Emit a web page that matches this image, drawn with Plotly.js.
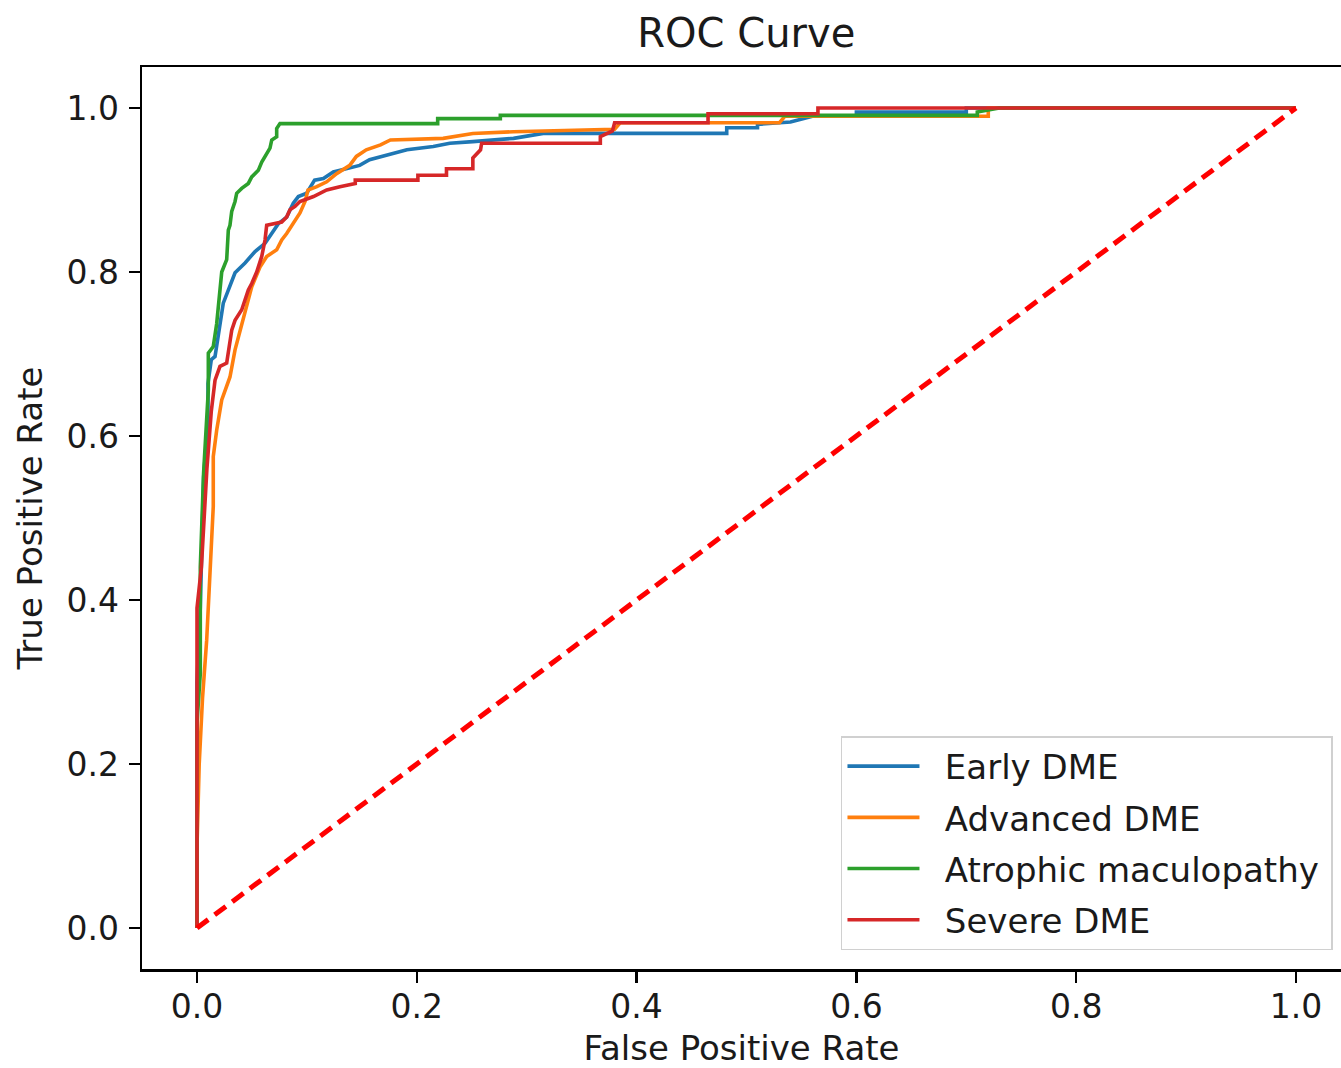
<!DOCTYPE html>
<html>
<head>
<meta charset="utf-8">
<script src="https://cdn.plot.ly/plotly-3.0.1.min.js"></script>
<style>html,body{margin:0;padding:0;background:#fff;overflow:hidden}#chart{width:1341px;height:1068px}</style>
</head>
<body>
<div id="chart"></div>
<script>
const seriesNames = ["Early DME", "Advanced DME", "Atrophic maculopathy", "Severe DME"];
const seriesColors = ["#1f77b4", "#ff7f0e", "#2ca02c", "#d62728"];

const earlyFPR = [0,0,0.003,0.006,0.01,0.010,0.013,0.0164,0.0239,0.0285,0.0346,0.0437,0.0528,0.0619,0.068,0.074,0.0816,0.0876,0.0922,0.0998,0.107,0.115,0.124,0.136,0.148,0.157,0.173,0.191,0.215,0.230,0.251,0.288,0.315,0.482,0.482,0.51,0.51,0.54,0.56,0.6,0.6,0.7,0.7,1];
const earlyTPR = [0,0.30,0.39,0.55,0.62,0.664,0.693,0.697,0.762,0.778,0.799,0.811,0.825,0.835,0.847,0.859,0.867,0.884,0.892,0.896,0.912,0.914,0.922,0.926,0.930,0.937,0.943,0.949,0.953,0.957,0.959,0.963,0.969,0.969,0.976,0.976,0.98,0.983,0.99,0.99,0.995,0.995,1,1];

const advFPR = [0,0,0.002,0.005,0.0088,0.012,0.0148,0.0148,0.0179,0.0225,0.0255,0.030,0.0346,0.0407,0.0452,0.0498,0.0573,0.0634,0.0725,0.0771,0.0816,0.0876,0.0937,0.0983,0.101,0.109,0.118,0.127,0.139,0.145,0.154,0.167,0.176,0.224,0.251,0.288,0.38,0.385,0.53,0.535,0.72,0.72,1];
const advTPR = [0,0.1,0.2,0.28,0.351,0.45,0.514,0.575,0.607,0.644,0.656,0.672,0.705,0.737,0.762,0.782,0.806,0.819,0.827,0.839,0.847,0.859,0.872,0.886,0.900,0.904,0.910,0.920,0.930,0.941,0.949,0.955,0.961,0.963,0.969,0.971,0.974,0.982,0.982,0.99,0.99,1.0,1];

const atrFPR = [0,0,0.003,0.003,0.006,0.0103,0.0103,0.0148,0.0179,0.0209,0.0225,0.027,0.0285,0.030,0.0316,0.0346,0.0361,0.0407,0.0467,0.0498,0.0558,0.0589,0.0664,0.068,0.0725,0.0725,0.0755,0.219,0.219,0.276,0.276,0.71,0.71,0.73,1];
const atrTPR = [0,0.25,0.31,0.44,0.555,0.656,0.701,0.709,0.737,0.786,0.800,0.815,0.851,0.857,0.874,0.886,0.896,0.902,0.908,0.916,0.924,0.934,0.951,0.961,0.965,0.975,0.981,0.981,0.987,0.987,0.991,0.991,0.995,1.0,1];

const sevFPR = [0,0,0.004,0.009,0.013,0.0164,0.0209,0.027,0.0316,0.0346,0.0407,0.0467,0.0498,0.0543,0.0589,0.0619,0.0634,0.0725,0.0771,0.0816,0.0846,0.0892,0.0937,0.106,0.112,0.118,0.130,0.144,0.144,0.201,0.201,0.227,0.227,0.251,0.251,0.258,0.259,0.367,0.367,0.378,0.38,0.465,0.465,0.565,0.565,1];
const sevTPR = [0,0.39,0.44,0.56,0.63,0.668,0.685,0.689,0.729,0.741,0.754,0.778,0.786,0.800,0.819,0.839,0.857,0.859,0.861,0.867,0.876,0.880,0.886,0.892,0.896,0.900,0.904,0.908,0.912,0.912,0.918,0.918,0.926,0.926,0.939,0.949,0.957,0.957,0.965,0.972,0.982,0.982,0.993,0.993,1.0,1];

const diagX = [0, 1];
const diagY = [0, 1];

const tickVals = [0, 0.2, 0.4, 0.6, 0.8, 1.0];
const tickText = ["0.0", "0.2", "0.4", "0.6", "0.8", "1.0"];

const xs = [earlyFPR, advFPR, atrFPR, sevFPR];
const ys = [earlyTPR, advTPR, atrTPR, sevTPR];

const font = "DejaVu Sans, sans-serif";
const txt = "#1a1a1a";

const traces = seriesNames.map((n, i) => ({
  x: xs[i], y: ys[i], type: "scatter", mode: "lines", name: "\u2002\u200A" + n + "\u2009",
  legendgroup: "g" + i,
  line: {color: seriesColors[i], width: 3.6}
}));
traces.push({
  x: diagX, y: diagY, type: "scatter", mode: "lines", showlegend: false,
  line: {color: "#ff0000", width: 5, dash: "14px,8px"}
});

const layout = {
  width: 1341, height: 1068,
  margin: {l: 142, r: 0, t: 67, b: 99},
  paper_bgcolor: "#fff", plot_bgcolor: "#fff",
  font: {family: font, size: 33, color: txt},
  title: {text: "ROC Curve", font: {family: font, size: 40, color: txt}, xref: "paper", x: 0.504, xanchor: "center", y: 0.969, yanchor: "middle"},
  xaxis: {
    range: [-0.05005, 1.04095], showgrid: false, zeroline: false,
    showline: true, linecolor: "#000", linewidth: 2.5, mirror: true,
    ticks: "outside", ticklen: 11, tickwidth: 2.5, tickcolor: "#000",
    ticklabelstandoff: -4,
    tickvals: tickVals, ticktext: tickText, tickfont: {size: 33, color: txt},
    title: {text: "False Positive Rate", font: {size: 34, color: txt}, standoff: 17}
  },
  yaxis: {
    range: [-0.05, 1.05], showgrid: false, zeroline: false,
    showline: true, linecolor: "#000", linewidth: 2.5, mirror: false,
    ticks: "outside", ticklen: 11, tickwidth: 2.5, tickcolor: "#000",
    ticklabelstandoff: 3,
    tickvals: tickVals, ticktext: tickText, tickfont: {size: 33, color: txt},
    title: {text: "True Positive Rate", font: {size: 34, color: txt}, standoff: 14}
  },
  legend: {
    x: 0.9933, y: 0.021, xanchor: "right", yanchor: "bottom",
    bgcolor: "rgba(255,255,255,0.8)", bordercolor: "#d0d0d0", borderwidth: 1.5,
    font: {size: 34, color: txt}, itemwidth: 72, tracegroupgap: 4,
    traceorder: "grouped"
  },
  showlegend: true
};

Plotly.newPlot("chart", traces, layout, {displayModeBar: false, staticPlot: true});
</script>
</body>
</html>
